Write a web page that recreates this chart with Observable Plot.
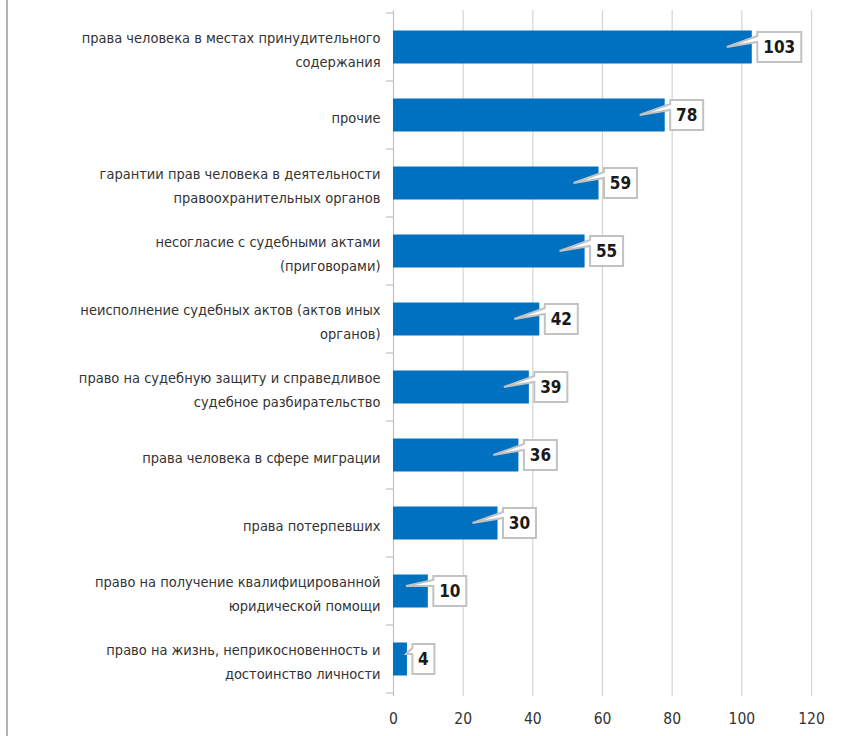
<!DOCTYPE html>
<html>
<head>
<meta charset="utf-8">
<script src="https://cdn.jsdelivr.net/npm/d3@7"></script>
<script src="https://cdn.jsdelivr.net/npm/@observablehq/plot@0.6"></script>
<style>
  html, body { margin: 0; padding: 0; background: #fff; }
  #wrap { position: relative; width: 855px; height: 736px; }
  #wrap::before { content: ""; position: absolute; left: 6px; top: 0; bottom: 0; border-left: 2px solid #b3b3b3; }
  svg { font-family: "Liberation Sans Narrow", "DejaVu Sans Condensed", "Roboto", sans-serif; font-stretch: condensed; }
</style>
</head>
<body>
<div id="wrap"></div>
<script>
const categories = [
  "права человека в местах принудительного\nсодержания",
  "прочие",
  "гарантии прав человека в деятельности\nправоохранительных органов",
  "несогласие с судебными актами\n(приговорами)",
  "неисполнение судебных актов (актов иных\nорганов)",
  "право на судебную защиту и справедливое\nсудебное разбирательство",
  "права человека в сфере миграции",
  "права потерпевших",
  "право на получение квалифицированной\nюридической помощи",
  "право на жизнь, неприкосновенность и\nдостоинство личности"
];
const values = [103, 78, 59, 55, 42, 39, 36, 30, 10, 4];
const xTicks = [0, 20, 40, 60, 80, 100, 120];

const data = categories.map((c, i) => ({category: c, value: values[i]}));

const gray = "#c2c2c2";

function callouts(index, scales, vals, dimensions) {
  const x = scales.x, y = scales.y;
  const bw = y.bandwidth();
  const g = d3.create("svg:g");
  const x0 = x(0);
  categories.forEach((c, i) => {
    const top = y(c);
    g.append("line").attr("x1", x0 - 7).attr("x2", x0).attr("y1", top).attr("y2", top)
      .attr("stroke", gray).attr("stroke-width", 1.2);
    if (i === categories.length - 1) {
      g.append("line").attr("x1", x0 - 7).attr("x2", x0).attr("y1", top + bw).attr("y2", top + bw)
        .attr("stroke", gray).attr("stroke-width", 1.2);
    }
  });
  data.forEach(d => {
    const cy = y(d.category) + bw / 2;
    const xe = x(d.value);
    const w = 11 * (String(d.value).length + 1);
    const bx = xe + 5.5, top = cy - 15, bot = cy + 15;
    let tx = xe - 25, ty = cy;
    if (tx < x0 + 13) { tx = x0 + 13; ty = cy - 5; }
    const p = `M${tx},${ty}L${bx},${top + 4}L${bx},${top}L${bx + w},${top}L${bx + w},${bot}L${bx},${bot}L${bx},${top + 10}Z`;
    g.append("path").attr("d", p).attr("fill", "#fff").attr("stroke", gray)
      .attr("stroke-width", 2).attr("stroke-linejoin", "miter");
    g.append("text").attr("x", bx + w / 2).attr("y", cy).attr("dy", "0.36em")
      .attr("text-anchor", "middle").attr("font-weight", "bold").attr("font-size", 17)
      .attr("fill", "#1a1a1a").text(d.value);
  });
  return g.node();
}

const chart = Plot.plot({
  width: 855,
  height: 736,
  marginLeft: 393,
  marginRight: 44,
  marginTop: 10,
  marginBottom: 40,
  style: {fontFamily: '"Liberation Sans Narrow", "DejaVu Sans Condensed", Roboto, sans-serif', color: "#333"},
  x: {domain: [0, 120], ticks: xTicks},
  y: {domain: categories, padding: 0},
  marks: [
    Plot.ruleX(xTicks.filter(t => t > 0), {stroke: "#d4d4d4", strokeWidth: 1.2, strokeOpacity: 1}),
    Plot.ruleX([0], {stroke: gray, strokeWidth: 1.2}),
    Plot.barX(data, {x: "value", y: "category", fill: "#0070c0", insetTop: 17.5, insetBottom: 17.5}),
    Plot.axisX({ticks: xTicks, tickSize: 0, tickPadding: 16, fontSize: 15.5, label: null, fill: "#333"}),
    Plot.axisY({tickSize: 0, tickPadding: 13, fontSize: 14.5, lineHeight: 1.6, label: null, fill: "#333"}),
    callouts
  ]
});
document.getElementById("wrap").appendChild(chart);
</script>
</body>
</html>
